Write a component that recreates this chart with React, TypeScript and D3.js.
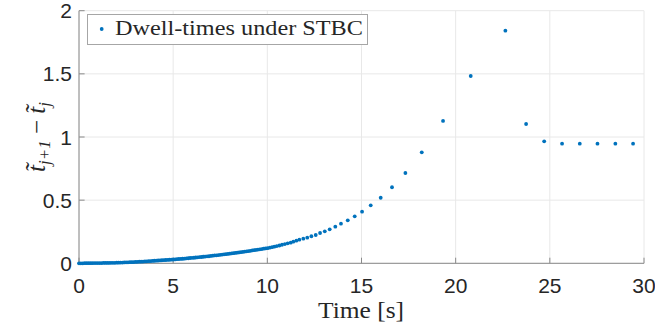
import React from "react";
import * as d3 from "d3";

// Switching instants (time, s) and dwell-times t_{j+1} - t_j
const denseTimes = [
  0.0, 0.1, 0.2, 0.3, 0.4, 0.5, 0.6, 0.7, 0.8, 0.9,
  1.0, 1.1, 1.2, 1.3, 1.4, 1.5, 1.6, 1.7, 1.8, 1.9,
  2.0, 2.1, 2.2, 2.3, 2.4, 2.5, 2.6, 2.7, 2.8, 2.9,
  3.0, 3.1, 3.2, 3.3, 3.4, 3.5, 3.6, 3.7, 3.8, 3.9,
  4.0, 4.1, 4.2, 4.3, 4.4, 4.5, 4.6, 4.7, 4.8, 4.9,
  5.0, 5.1, 5.2, 5.3, 5.4, 5.5, 5.6, 5.7, 5.8, 5.9,
  6.0, 6.1, 6.2, 6.3, 6.4, 6.5, 6.6, 6.7, 6.8, 6.9,
  7.0, 7.1, 7.2, 7.3, 7.4, 7.5, 7.6, 7.7, 7.8, 7.9,
  8.0, 8.1, 8.2, 8.3, 8.4, 8.5, 8.6, 8.7, 8.8, 8.9,
  9.0, 9.1, 9.2, 9.3, 9.4, 9.5, 9.6, 9.7, 9.8, 9.9,
];
const denseDwell = [
  0.000, 0.000, 0.000, 0.001, 0.001, 0.001, 0.001, 0.001, 0.002, 0.002,
  0.002, 0.002, 0.002, 0.003, 0.003, 0.003, 0.003, 0.004, 0.004, 0.004,
  0.005, 0.005, 0.006, 0.006, 0.007, 0.008, 0.008, 0.009, 0.009, 0.010,
  0.011, 0.012, 0.013, 0.013, 0.014, 0.015, 0.016, 0.017, 0.018, 0.019,
  0.020, 0.021, 0.022, 0.023, 0.024, 0.025, 0.026, 0.027, 0.028, 0.029,
  0.030, 0.031, 0.033, 0.034, 0.035, 0.036, 0.037, 0.039, 0.040, 0.042,
  0.043, 0.044, 0.046, 0.047, 0.049, 0.050, 0.052, 0.053, 0.055, 0.056,
  0.058, 0.060, 0.062, 0.063, 0.065, 0.067, 0.069, 0.071, 0.072, 0.074,
  0.076, 0.078, 0.080, 0.082, 0.084, 0.086, 0.088, 0.090, 0.093, 0.095,
  0.097, 0.099, 0.102, 0.104, 0.106, 0.109, 0.111, 0.113, 0.116, 0.118,
];
const sparseTimes = [
  10.01, 10.13, 10.25, 10.37, 10.5, 10.64, 10.78, 10.93, 11.08,
  11.24, 11.38, 11.54, 11.7, 11.91, 12.12, 12.34, 12.57, 12.8, 13.05,
  13.31, 13.61, 13.91, 14.27, 14.64, 15.03, 15.49, 16.02, 16.62, 17.33,
  18.2, 19.33, 20.8, 22.64, 23.74, 24.7, 25.65, 26.59, 27.53, 28.48, 29.42,
];
const sparseDwell = [
  0.12, 0.124, 0.128, 0.132, 0.136, 0.141, 0.147, 0.152, 0.158,
  0.163, 0.171, 0.179, 0.187, 0.195, 0.203, 0.214, 0.224, 0.24, 0.253,
  0.269, 0.29, 0.314, 0.34, 0.372, 0.409, 0.459, 0.519, 0.602, 0.715,
  0.879, 1.127, 1.483, 1.842, 1.103, 0.966, 0.947, 0.947, 0.947, 0.947, 0.947,
];
const xTicks = [0, 5, 10, 15, 20, 25, 30];
const yTicks = [0, 0.5, 1, 1.5, 2];
const yTickLabels = ["0", "0.5", "1", "1.5", "2"];
const legendLabel = "Dwell-times under STBC";

export default function App() {
  const W = 655, H = 329;
  const left = 79, right = 644, top = 10.7, bottom = 263.3;
  const x = d3.scaleLinear().domain([0, 30]).range([left, right]);
  const y = d3.scaleLinear().domain([0, 2]).range([bottom, top]);
  const pts = [
    ...denseTimes.map((t, i) => [t, denseDwell[i]]),
    ...sparseTimes.map((t, i) => [t, sparseDwell[i]]),
  ];
  const blue = "#0072BD";
  const axisColor = "#8a8a8a";
  const gridColor = "#e8e8e8";
  const textColor = "#262626";
  const sans = "'Liberation Sans', Arial, sans-serif";
  const serif = "'Liberation Serif', 'Times New Roman', serif";
  return (
    <svg width={W} height={H} style={{ position: "absolute", left: 0, top: 0, background: "#fff" }}>
      <rect x={0} y={0} width={W} height={H} fill="#fff" />
      {/* grid */}
      {xTicks.map((t) => (
        <line key={"gx" + t} x1={x(t)} x2={x(t)} y1={top} y2={bottom} stroke={gridColor} strokeWidth={1} />
      ))}
      {yTicks.map((t) => (
        <line key={"gy" + t} x1={left} x2={right} y1={y(t)} y2={y(t)} stroke={gridColor} strokeWidth={1} />
      ))}
      {/* axes */}
      <line x1={left} x2={left} y1={top} y2={bottom} stroke={axisColor} strokeWidth={1} />
      <line x1={left} x2={right} y1={bottom} y2={bottom} stroke={axisColor} strokeWidth={1} />
      {xTicks.map((t) => (
        <line key={"tx" + t} x1={x(t)} x2={x(t)} y1={bottom} y2={bottom - 5.6} stroke={axisColor} strokeWidth={1} />
      ))}
      {yTicks.map((t) => (
        <line key={"ty" + t} x1={left} x2={left + 5.6} y1={y(t)} y2={y(t)} stroke={axisColor} strokeWidth={1} />
      ))}
      {/* tick labels */}
      {xTicks.map((t) => (
        <text key={"lx" + t} x={x(t)} y={293} textAnchor="middle" fontFamily={sans} fontSize={21} fill={textColor}>
          {t}
        </text>
      ))}
      {yTicks.map((t, i) => (
        <text key={"ly" + t} x={72} y={y(t) + 7.5} textAnchor="end" fontFamily={sans} fontSize={21} fill={textColor}>
          {yTickLabels[i]}
        </text>
      ))}
      {/* points */}
      {pts.map(([t, v], i) => (
        <circle key={"p" + i} cx={x(t)} cy={y(v)} r={1.9} fill={blue} />
      ))}
      {/* axis labels */}
      <text x={361} y={318} textAnchor="middle" fontFamily={serif} fontSize={23} fill={textColor} textLength={86} lengthAdjust="spacingAndGlyphs">
        Time [s]
      </text>
      <g transform={`translate(45, ${(top + bottom) / 2}) rotate(-90)`}>
        <text textAnchor="middle" fontFamily={serif} fontSize={25} fill={textColor}>
          <tspan fontStyle="italic">{"t\u0303"}</tspan>
          <tspan fontStyle="italic" fontSize={17} dy={5}>{"j+1"}</tspan>
          <tspan dy={-5}>{" \u2212 "}</tspan>
          <tspan fontStyle="italic">{"t\u0303"}</tspan>
          <tspan fontStyle="italic" fontSize={17} dy={5}>{"j"}</tspan>
        </text>
      </g>
      {/* legend */}
      <rect x={87.5} y={14.5} width={280} height={30} fill="#fff" stroke="#a6a6a6" strokeWidth={1} />
      <circle cx={101.7} cy={29} r={1.9} fill={blue} />
      <text x={115} y={35} fontFamily={serif} fontSize={22} fill={textColor} textLength={248} lengthAdjust="spacingAndGlyphs">
        {legendLabel}
      </text>
    </svg>
  );
}
